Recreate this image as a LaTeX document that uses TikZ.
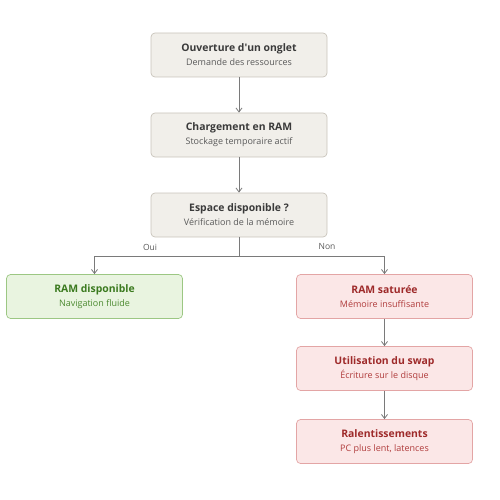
\documentclass[tikz,border=0pt]{standalone}
\usepackage{fontspec}
\setmainfont{Open Sans}
\usetikzlibrary{arrows.meta,positioning}
\definecolor{gfill}{HTML}{F1EFEA}
\definecolor{gdraw}{HTML}{C9C4BB}
\definecolor{gtext}{HTML}{3A3A3A}
\definecolor{gsub}{HTML}{5A5A5A}
\definecolor{vfill}{HTML}{E9F4E0}
\definecolor{vdraw}{HTML}{9CC783}
\definecolor{vtext}{HTML}{3B7A1F}
\definecolor{vsub}{HTML}{4C8A30}
\definecolor{rfill}{HTML}{FBE7E7}
\definecolor{rdraw}{HTML}{E3A5A5}
\definecolor{rtext}{HTML}{9E2A2A}
\definecolor{rsub}{HTML}{B03C3C}
\definecolor{lcol}{HTML}{7A7A7A}
\tikzset{
  x=1pt,y=-1pt,
  box/.style={rounded corners=4pt, line width=0.7pt, minimum width=176pt, minimum height=44pt, align=center, inner sep=0pt},
  greybox/.style={box, fill=gfill, draw=gdraw},
  greenbox/.style={box, fill=vfill, draw=vdraw},
  redbox/.style={box, fill=rfill, draw=rdraw},
  conn/.style={draw=lcol, line width=0.8pt, -{Straight Barb[length=4pt,width=6pt]}},
  lab/.style={font=\fontsize{8.5}{10}\selectfont, text=gsub}
}
\newcommand{\tl}[4]{{\fontsize{10.4}{12}\selectfont\bfseries\color{#1}#3}\\[2pt]{\fontsize{9}{10}\selectfont\color{#2}#4}}
\begin{document}
\begin{tikzpicture}
\useasboundingbox (0,0) rectangle (500,500);
\node[greybox] (a) at (239,55) {\tl{gtext}{gsub}{Ouverture d\textquotesingle un onglet}{Demande des ressources}};
\node[greybox] (b) at (239,135) {\tl{gtext}{gsub}{Chargement en RAM}{Stockage temporaire actif}};
\node[greybox] (c) at (239,215) {\tl{gtext}{gsub}{Espace disponible ?}{Vérification de la mémoire}};
\node[greenbox] (d) at (94.5,296.5) {\tl{vtext}{vsub}{RAM disponible}{Navigation fluide}};
\node[redbox] (e) at (384.5,296.5) {\tl{rtext}{rsub}{RAM saturée}{Mémoire insuffisante}};
\node[redbox] (f) at (384.5,368.5) {\tl{rtext}{rsub}{Utilisation du swap}{Écriture sur le disque}};
\node[redbox] (g) at (384.5,441.5) {\tl{rtext}{rsub}{Ralentissements}{PC plus lent, latences}};
\coordinate (j) at (239,256);
\draw[conn] (a) -- (b);
\draw[conn] (b) -- (c);
\draw[draw=lcol, line width=0.8pt] (c) -- (j);
\draw[conn] (j) -| (d.north);
\draw[conn] (j) -| (e.north);
\draw[conn] (e) -- (f);
\draw[conn] (f) -- (g);
\node[lab] (oui) at (150,247) {Oui};
\node[lab] (non) at (327,247) {Non};
\end{tikzpicture}
\end{document}
